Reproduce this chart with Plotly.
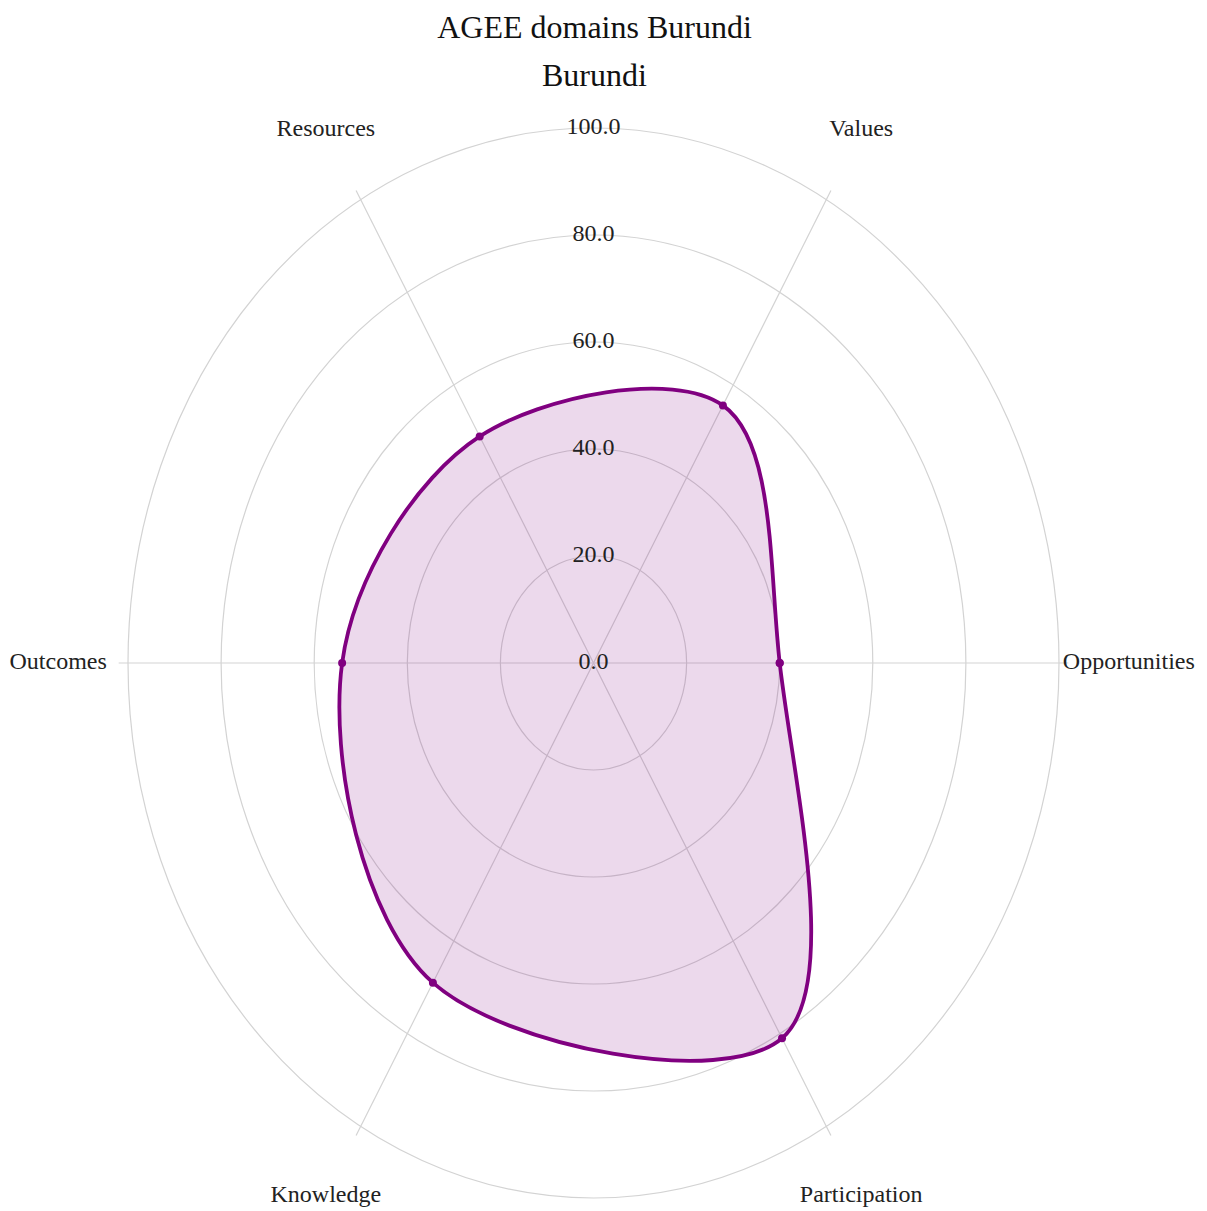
import math
import plotly.graph_objects as go

# ---- data ----
categories = ["Opportunities", "Values", "Resources", "Outcomes", "Knowledge", "Participation"]
values = [40.0, 55.6, 48.9, 54.0, 69.0, 81.0]
radial_ticks = [0, 20, 40, 60, 80, 100]
title_text = "AGEE domains Burundi"
subtitle_text = "Burundi"

# ---- styling ----
FONT = "Liberation Serif, Times New Roman, serif"
LINE_COLOR = "#800080"
FILL_COLOR = "rgba(128,0,128,0.15)"
GRID_COLOR = "#d3d3d3"
TEXT_COLOR = "#222222"

n = len(categories)
angles = [2 * math.pi * i / n for i in range(n)]

def to_xy(r, a):
    return r * math.cos(a), r * math.sin(a)

fig = go.Figure()

# grid rings (ellipses because axes are scaled differently)
shapes = []
for t in radial_ticks[1:]:
    shapes.append(dict(type="circle", xref="x", yref="y", x0=-t, x1=t, y0=-t, y1=t,
                       line=dict(color=GRID_COLOR, width=1.2), layer="below"))

# spokes
rmax = radial_ticks[-1]
for a in angles:
    x1, y1 = to_xy(rmax * 1.02, a)
    shapes.append(dict(type="line", xref="x", yref="y", x0=0, y0=0, x1=x1, y1=y1,
                       line=dict(color=GRID_COLOR, width=1.2), layer="below"))

# data trace (closed)
pts = [to_xy(v, a) for v, a in zip(values, angles)]
xs = [p[0] for p in pts] + [pts[0][0]]
ys = [p[1] for p in pts] + [pts[0][1]]
fig.add_trace(go.Scatter(
    x=xs, y=ys, mode="lines+markers", fill="toself", fillcolor=FILL_COLOR,
    line=dict(color=LINE_COLOR, width=3.8, shape="spline", smoothing=1.0),
    marker=dict(color=LINE_COLOR, size=8), hoverinfo="skip", showlegend=False,
    cliponaxis=False,
))

# radial tick labels
fig.add_trace(go.Scatter(
    x=[0] * len(radial_ticks), y=radial_ticks, mode="text",
    text=[f"{t:.1f}" for t in radial_ticks], textposition="middle center",
    textfont=dict(family=FONT, size=24, color=TEXT_COLOR),
    hoverinfo="skip", showlegend=False, cliponaxis=False,
))

# category labels
lab = [to_xy(rmax * 1.15, a) for a in angles]
fig.add_trace(go.Scatter(
    x=[p[0] for p in lab], y=[p[1] for p in lab], mode="text",
    text=categories, textposition="middle center",
    textfont=dict(family=FONT, size=24, color=TEXT_COLOR),
    hoverinfo="skip", showlegend=False, cliponaxis=False,
))

fig.update_layout(
    width=1207, height=1211,
    margin=dict(l=0, r=36, t=110, b=11),
    paper_bgcolor="white", plot_bgcolor="white",
    font=dict(family=FONT, color=TEXT_COLOR),
    shapes=shapes,
    title=dict(text=title_text, x=586.5 / 1207, xref="container", xanchor="center",
               y=1 - 19 / 1211, yref="container", yanchor="middle",
               font=dict(family=FONT, size=32, color="#111111")),
    annotations=[dict(text=subtitle_text, xref="paper", yref="paper",
                      x=586 / 1171, y=(1200 - 67) / 1090, xanchor="center", yanchor="middle",
                      showarrow=False, font=dict(family=FONT, size=32, color="#111111"))],
    xaxis=dict(range=[-125.78, 125.78], visible=False, fixedrange=True),
    yaxis=dict(range=[-101.87, 101.87], visible=False, fixedrange=True),
)

fig.write_html("out.html")
